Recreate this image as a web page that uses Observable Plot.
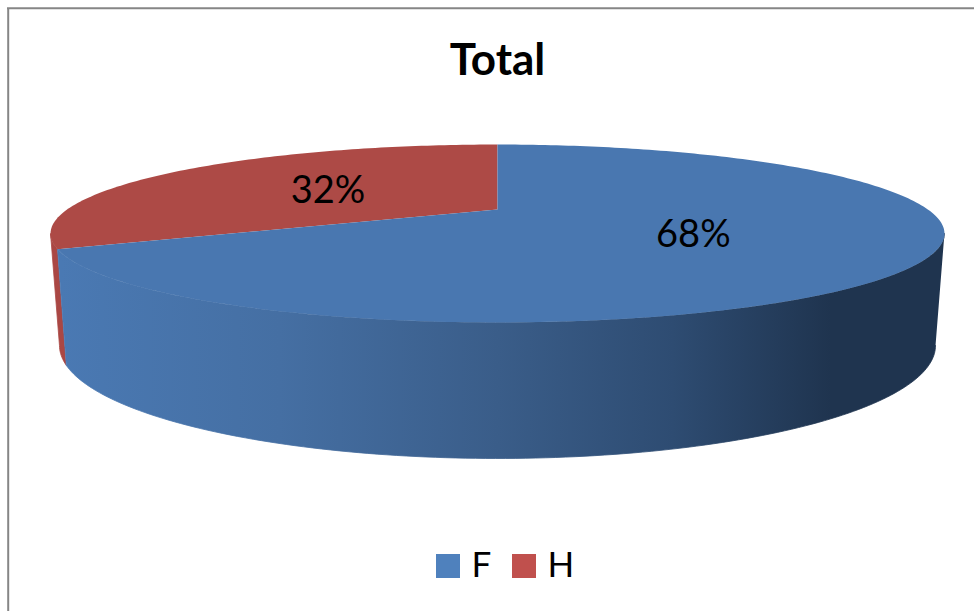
<!DOCTYPE html>
<html>
<head>
<meta charset="utf-8">
<script src="https://cdn.jsdelivr.net/npm/d3@7"></script>
<script src="https://cdn.jsdelivr.net/npm/@observablehq/plot@0.6"></script>
<style>
  html, body { margin: 0; padding: 0; background: #fff; }
  svg { display: block; }
</style>
</head>
<body>
<div id="chart"></div>
<script>
const title = "Total";
const categories = ["F", "H"];
const shares = [68, 32];
const topColors = ["#4977B0", "#AD4A46"];
const legendColors = ["#4F81BD", "#C0504D"];
const sideStops = [[0, "#4A79B3"], [0.25, "#456FA3"], [0.5, "#3A5D89"], [0.7, "#2E4C72"], [0.88, "#1F344F"], [1, "#1F344F"]];

const W = 974, H = 611;
const k = 0.2696;
const topDisc = {cx: 497, cy: 209, ax: 430.4, ay: 82.5};
const baseDisc = {cx: 497, cy: 314.5, ax: 421.8, ay: 104.8};

function project(disc, deg, r = 1) {
  const t = deg * Math.PI / 180;
  const u = r * Math.sin(t), v = r * Math.cos(t), w = 1 + k * v;
  return {x: disc.cx + disc.ax * u / w, y: disc.cy - disc.ay * v / w};
}
function arc(disc, a0, a1, key) {
  const n = Math.max(2, Math.ceil(Math.abs(a1 - a0)));
  return d3.range(n + 1).map(i => ({...project(disc, a0 + (a1 - a0) * i / n), key}));
}

const total = d3.sum(shares);
let acc = 0;
const slices = categories.map((name, i) => {
  const start = acc / total * 360;
  acc += shares[i];
  return {name, share: shares[i], start, end: acc / total * 360, color: topColors[i]};
});

const silhouette = Math.asin(k) * 180 / Math.PI;
const frontStart = 90 + silhouette, frontEnd = 270 - silhouette;

const topPoints = slices.flatMap(s => [
  {...project(topDisc, 0, 0), key: s.name},
  ...arc(topDisc, s.start, s.end, s.name)
]);
const sidePoints = slices.flatMap(s => {
  const a0 = Math.max(s.start, frontStart), a1 = Math.min(s.end, frontEnd);
  return a1 > a0 ? [...arc(topDisc, a0, a1, s.name), ...arc(baseDisc, a1, a0, s.name)] : [];
});
const labels = slices.map(s => ({
  ...project(topDisc, (s.start + s.end) / 2, 0.5),
  text: `${s.share}%`
}));

const legend = [
  {name: "F", x1: 436, x2: 460, tx: 471, color: legendColors[0]},
  {name: "H", x1: 512, x2: 536, tx: 547, color: legendColors[1]}
];

const defs = () => {
  const d = d3.create("svg:defs");
  const g = d.append("linearGradient").attr("id", "sideShade")
    .attr("gradientUnits", "userSpaceOnUse")
    .attr("x1", 60).attr("x2", 935).attr("y1", 0).attr("y2", 0);
  sideStops.forEach(([o, c]) => g.append("stop").attr("offset", o).attr("stop-color", c));
  return d.node();
};

const chart = Plot.plot({
  width: W, height: H,
  margin: 0,
  style: {background: "#fff", fontFamily: "Lato, sans-serif", overflow: "hidden"},
  x: {domain: [0, W], range: [0, W], axis: null},
  y: {domain: [0, H], range: [0, H], axis: null},
  marks: [
    defs,
    Plot.ruleX([7.7], {y1: 8, y2: H, stroke: "#868686", strokeWidth: 2}),
    Plot.ruleY([7.7], {x1: 7, x2: W, stroke: "#868686", strokeWidth: 2}),
    Plot.line(sidePoints.filter(d => d.key === "H"), {x: "x", y: "y", stroke: "#AA4744", strokeWidth: 0.8, fill: "#AA4744"}),
    Plot.line(sidePoints.filter(d => d.key === "F"), {x: "x", y: "y", stroke: "url(#sideShade)", strokeWidth: 0.8, fill: "url(#sideShade)"}),
    Plot.line(topPoints.filter(d => d.key === "H"), {x: "x", y: "y", stroke: "none", fill: slices[1].color}),
    Plot.line(topPoints.filter(d => d.key === "F"), {x: "x", y: "y", stroke: "none", fill: slices[0].color}),
    Plot.text(labels, {x: "x", y: "y", dy: 2, text: "text", fontSize: 38, fill: "#000"}),
    Plot.text([title], {x: () => 497, y: () => 60, text: d => d, fontSize: 44, fontWeight: 700, fill: "#000"}),
    Plot.rect(legend, {x1: "x1", x2: "x2", y1: () => 554, y2: () => 578, fill: "color"}),
    Plot.text(legend, {x: "tx", y: () => 565, text: "name", textAnchor: "start", fontSize: 35, fill: "#000"})
  ]
});
document.getElementById("chart").appendChild(chart);
</script>
</body>
</html>
